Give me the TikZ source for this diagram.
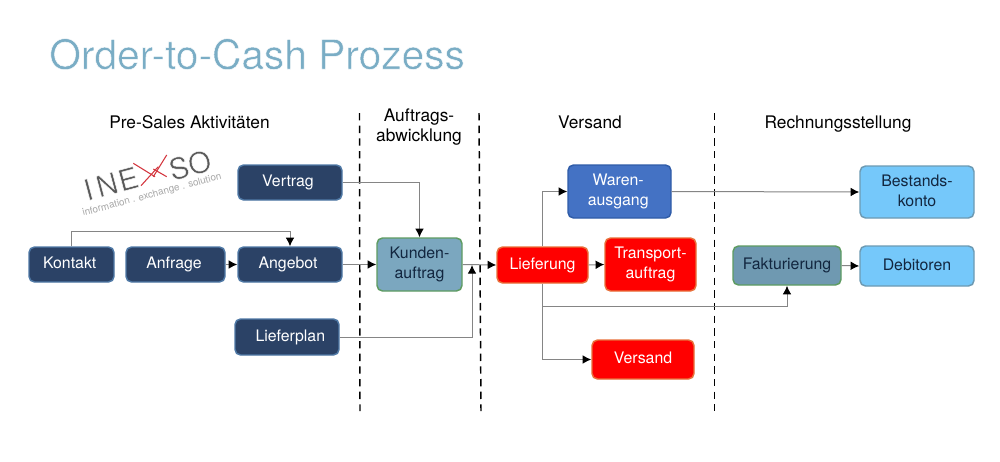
\documentclass[tikz,border=0pt]{standalone}
\usepackage{fontspec}
\setmainfont{TeX Gyre Heros}
\usetikzlibrary{arrows.meta}
\definecolor{navy}{HTML}{2B4266}
\definecolor{navyline}{HTML}{4F79A6}
\definecolor{steel}{HTML}{7BA7BF}
\definecolor{steeldark}{HTML}{6F99B1}
\definecolor{leaf}{HTML}{5E9C62}
\definecolor{signal}{HTML}{FF0000}
\definecolor{signalline}{HTML}{E8703A}
\definecolor{royal}{HTML}{4472C4}
\definecolor{royalline}{HTML}{2F5CA8}
\definecolor{sky}{HTML}{75C8FA}
\definecolor{skyline}{HTML}{6D9AB3}
\definecolor{inkdark}{HTML}{12263F}
\definecolor{heading}{HTML}{7AADC5}
\definecolor{wire}{HTML}{858585}
\definecolor{logogray}{HTML}{5A5A5A}
\definecolor{logolight}{HTML}{A8A8A8}
\definecolor{logored}{HTML}{D4373F}
\tikzset{
  x=0.75pt, y=-0.75pt,
  box/.style={rounded corners=5.5*0.75pt, line width=1.1pt, inner sep=0pt, align=center,
    font=\fontsize{11.9pt}{15pt}\selectfont},
  navybox/.style={box, draw=navyline, fill=navy, text=white},
  steelbox/.style={box, draw=leaf, fill=steel, text=inkdark},
  redbox/.style={box, draw=signalline, fill=signal, text=white},
  royalbox/.style={box, draw=royalline, fill=royal, text=white},
  skybox/.style={box, draw=skyline, fill=sky, text=inkdark},
  wirearrow/.style={draw=wire, line width=0.75pt, -{Latex[length=6.5pt,width=6.5pt,black]}},
  wireplain/.style={draw=wire, line width=0.75pt},
  phase/.style={font=\fontsize{13pt}{15pt}\selectfont, align=center, text=black, inner sep=0pt},
  divider/.style={draw=black, line width=1.1pt, dash pattern=on 5.5pt off 4pt},
  logoletter/.style={text=logogray, inner sep=0pt, rotate=15, font=\fontsize{22pt}{22pt}\selectfont},
  logostroke/.style={logored, line width=0.8pt},
}
% box from its left, top, right and bottom edge, in pixels
\newcommand{\stepbox}[7]{%
  \node[#1, minimum width=#5*0.75pt-#3*0.75pt, minimum height=#6*0.75pt-#4*0.75pt]
    (#2) at ({(#3+#5)/2},{(#4+#6)/2}) {#7};}
\newcommand{\nudged}[2]{\hspace*{#1}#2\strut}
% set text a little lighter by outlining the glyphs in white
\newcommand{\slimtext}[1]{\special{pdf:code 2 Tr 0.35 w 1 1 1 RG}#1\special{pdf:code 0 Tr 0 w}}
\begin{document}
\begin{tikzpicture}
\useasboundingbox (0,0) rectangle (1000,461);
\fill[white] (0,0) rectangle (1000,461);

% title
\node[anchor=base west, text=heading, inner sep=0pt, font=\fontsize{30.5pt}{34pt}\selectfont] (title) at (49,69) {\slimtext{Order-to-Cash Prozess}};

% phase headings
\node[phase] (h1) at (189.5,124) {Pre-Sales Aktivitäten\strut};
\node[phase] (h2) at (419,127.7) {Auftrags-\strut\\abwicklung\strut};
\node[phase] (h3) at (590,124) {Versand\strut};
\node[phase] (h4) at (838,124) {Rechnungsstellung\strut};

% phase dividers
\coordinate (d1a) at (359.5,113); \coordinate (d1b) at (360,411);
\coordinate (d2a) at (479,113);   \coordinate (d2b) at (481,411);
\coordinate (d3a) at (714.5,113); \coordinate (d3b) at (714.5,411);
\draw[divider] (d1a) -- (d1b);
\draw[divider] (d2a) -- (d2b);
\draw[divider] (d3a) -- (d3b);

% company mark
\node[logoletter] (logoa) at (111,183.5) {\slimtext{I\kern3.5pt N\kern1.2pt E}};
\node[logoletter] (logob) at (190,165) {\slimtext{SO}};
\node[text=logolight, inner sep=0pt, rotate=15, font=\fontsize{7.4pt}{8pt}\selectfont] (logot) at (152,195) {information . exchange . solution};
\coordinate (xa) at (133.3,163.3); \coordinate (xb) at (155,176.7);
\coordinate (xc) at (141,185.7);   \coordinate (xd) at (158.3,166.7);
\coordinate (xe) at (166.7,155);   \coordinate (xf) at (153.3,176.7);
\coordinate (xg) at (153.3,169);   \coordinate (xh) at (166.7,176.7);
\draw[logostroke] (xa) -- (xb);
\draw[logostroke] (xc) -- (xd);
\draw[logostroke] (xe) -- (xf);
\draw[logostroke] (xg) -- (xh);

% process boxes
\stepbox{navybox}{kontakt}{29}{247}{114}{282}{\nudged{-2.7pt}{Kontakt}}
\stepbox{navybox}{anfrage}{126}{247}{225}{282}{\nudged{-2.2pt}{Anfrage}}
\stepbox{navybox}{angebot}{238}{247}{342}{282}{\nudged{-3pt}{Angebot}}
\stepbox{navybox}{vertrag}{238}{165}{342}{200}{\nudged{-3pt}{Vertrag}}
\stepbox{navybox}{lieferplan}{235}{319}{339}{355}{\nudged{5pt}{Lieferplan}}
\stepbox{steelbox}{kunde}{377}{238}{462}{291}{Kunden-\strut\\auftrag\strut}
\stepbox{redbox}{lieferung}{497}{247}{588}{283}{Lieferung\strut}
\stepbox{royalbox}{waren}{568}{165}{671}{218}{\nudged{-2pt}{Waren-}\\\nudged{-2pt}{ausgang}}
\stepbox{redbox}{transport}{605}{238}{696}{291}{Transport-\strut\\auftrag\strut}
\stepbox{redbox}{versand}{592}{340}{694}{379}{Versand\strut}
\stepbox{steelbox, fill=steeldark}{faktura}{733}{246}{841}{285}{Fakturierung\strut}
\stepbox{skybox}{bestand}{860}{166}{974}{218}{Bestands-\strut\\konto\strut}
\stepbox{skybox}{debitoren}{860}{246}{974}{286}{Debitoren\strut}

% connectors
\coordinate (topbend) at (290,231);
\coordinate (merge) at (472,265);
\coordinate (branch) at (542.5,306);
\draw[wireplain] (kontakt.north) |- (topbend);
\draw[wirearrow] (topbend) -- (angebot.north);
\draw[wirearrow] (anfrage.east) -- (angebot.west);
\draw[wirearrow] (vertrag.east) -| (kunde.north);
\draw[wirearrow] (angebot.east) -- (kunde.west);
\draw[wirearrow] (lieferplan.east) -| (merge);
\draw[wirearrow] (kunde.east) -- (lieferung.west);
\draw[wirearrow] (lieferung.north) |- (waren.west);
\draw[wirearrow] (lieferung.east) -- (transport.west);
\draw[wirearrow] (lieferung.south) |- (versand.west);
\draw[wirearrow] (branch) -| (faktura.south);
\draw[wirearrow] (waren.east) -- (bestand.west);
\draw[wirearrow] (faktura.east) -- (debitoren.west);
\end{tikzpicture}
\end{document}
